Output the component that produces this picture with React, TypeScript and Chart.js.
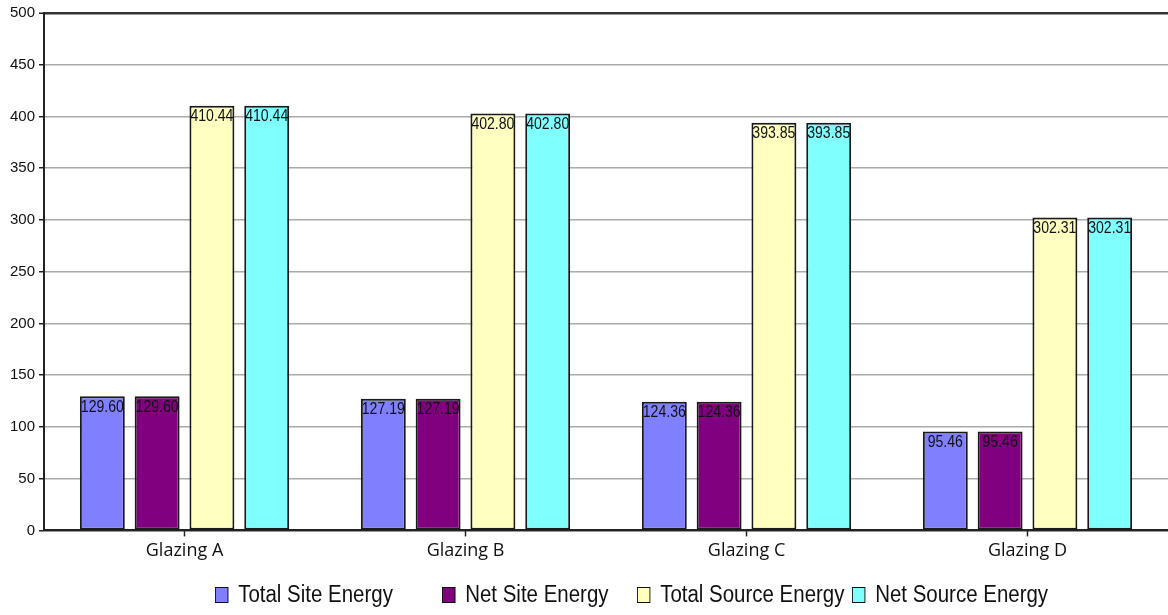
import React, { useEffect, useRef } from "react";
import { Chart, registerables } from "chart.js";

Chart.register(...registerables);

const categories = ["Glazing A", "Glazing B", "Glazing C", "Glazing D"];
const totalSiteEnergy = [129.6, 127.19, 124.36, 95.46];
const netSiteEnergy = [129.6, 127.19, 124.36, 95.46];
const totalSourceEnergy = [410.44, 402.8, 393.85, 302.31];
const netSourceEnergy = [410.44, 402.8, 393.85, 302.31];
const seriesNames = ["Total Site Energy", "Net Site Energy", "Total Source Energy", "Net Source Energy"];
const yTicks = [0, 50, 100, 150, 200, 250, 300, 350, 400, 450, 500];

const seriesColors = ["#8080FF", "#800080", "#FFFFC0", "#80FFFF"];
const legendLeft = [215, 442, 637, 852];

const labelFont = "'Liberation Sans', Arial, sans-serif";

// Writes each bar's value just inside its top edge, in a slightly condensed face
const barValueLabels = {
  id: "barValueLabels",
  afterDatasetsDraw(chart: any) {
    const ctx = chart.ctx;
    chart.data.datasets.forEach((ds: any, di: number) => {
      const meta = chart.getDatasetMeta(di);
      meta.data.forEach((bar: any, i: number) => {
        const v = ds.data[i] as number;
        ctx.save();
        ctx.translate(bar.x, bar.y + 3);
        ctx.scale(0.88, 1);
        ctx.font = `16px ${labelFont}`;
        ctx.fillStyle = "#111";
        ctx.textAlign = "center";
        ctx.textBaseline = "top";
        ctx.fillText(v.toFixed(2), 0, 0);
        ctx.restore();
      });
    });
  },
};

export default function App() {
  const canvasRef = useRef<HTMLCanvasElement>(null);

  useEffect(() => {
    if (!canvasRef.current) return;
    const chart = new Chart(canvasRef.current, {
      type: "bar",
      data: {
        labels: categories,
        datasets: [totalSiteEnergy, netSiteEnergy, totalSourceEnergy, netSourceEnergy].map((d, i) => ({
          label: seriesNames[i],
          data: d,
          backgroundColor: seriesColors[i],
          borderColor: "#1a1a1a",
          borderWidth: 2,
          borderSkipped: false,
          categoryPercentage: 0.78,
          barPercentage: 0.82,
        })),
      },
      options: {
        responsive: false,
        animation: false,
        layout: { padding: { top: 6, left: 6, right: 0, bottom: 49 } },
        plugins: {
          legend: { display: false },
          tooltip: { enabled: false },
        },
        scales: {
          x: {
            grid: {
              display: true,
              drawOnChartArea: false,
              offset: false,
              tickLength: 6,
              tickColor: "#222",
              tickWidth: 1.5,
            },
            border: { color: "#222", width: 2 },
            ticks: {
              color: "#111",
              font: { family: "'Open Sans', Lato, sans-serif", size: 18 },
              padding: 4,
            },
          },
          y: {
            min: 0,
            max: 500,
            afterBuildTicks: (axis: any) => {
              axis.ticks = yTicks.map((v) => ({ value: v }));
            },
            grid: {
              color: (c: any) => (c.tick && (c.tick.value === 500 || c.tick.value === 0) ? "#333" : "#aaa"),
              lineWidth: (c: any) => (c.tick && c.tick.value === 500 ? 2.5 : 1.5),
              tickLength: 5,
              tickColor: "#222",
              tickWidth: 1.5,
            },
            border: { color: "#222", width: 2 },
            ticks: {
              color: "#111",
              font: { family: labelFont, size: 15 },
              padding: 4,
            },
          },
        },
      },
      plugins: [barValueLabels],
    });
    return () => chart.destroy();
  }, []);

  return (
    <div style={{ position: "absolute", left: 0, top: 0, width: 1168, height: 615, background: "#fff" }}>
      <canvas ref={canvasRef} width={1168} height={615} />
      {seriesNames.map((name, i) => (
        <div
          key={name}
          style={{
            position: "absolute",
            left: legendLeft[i],
            top: 581,
            display: "flex",
            alignItems: "center",
            fontFamily: labelFont,
            fontSize: 23,
            color: "#111",
            whiteSpace: "nowrap",
            transform: "scaleX(0.89)",
            transformOrigin: "left center",
          }}
        >
          <span
            style={{
              display: "inline-block",
              width: 13,
              height: 14,
              background: seriesColors[i],
              border: "1.5px solid #111",
              marginRight: 11,
            }}
          />
          {name}
        </div>
      ))}
    </div>
  );
}
